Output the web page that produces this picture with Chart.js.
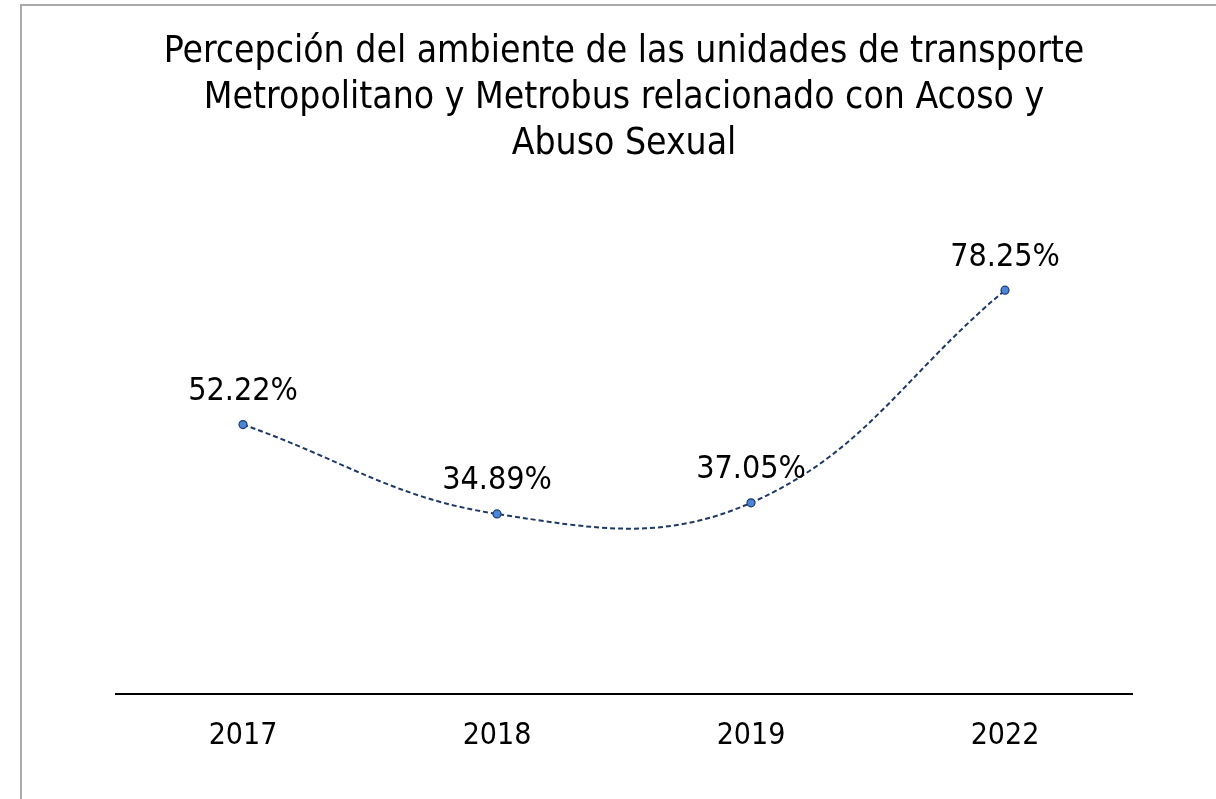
<!DOCTYPE html>
<html><head><meta charset="utf-8">
<script src="https://cdn.jsdelivr.net/npm/chart.js@4.4.1/dist/chart.umd.min.js"></script>
<style>
html,body{margin:0;padding:0;background:#fff;overflow:hidden;width:1216px;height:799px;}
#frame{position:absolute;left:20px;top:4px;border-left:2px solid #ababab;border-top:2px solid #ababab;width:1200px;height:800px;}
canvas{display:block}
</style></head><body>
<div id="frame"><canvas id="c" width="1195" height="800"></canvas></div>
<script>
const titleLines = [
  'Percepción del ambiente de las unidades de transporte',
  'Metropolitano y Metrobus relacionado con Acoso y',
  'Abuso Sexual'
];
const categories = ['2017', '2018', '2019', '2022'];
const values = [52.22, 34.89, 37.05, 78.25];
const yMin = 0;
const yMax = 100;

const FONT = '"DejaVu Sans Condensed", "DejaVu Sans", sans-serif';

const valueLabels = {
  id: 'valueLabels',
  afterDatasetsDraw(chart) {
    const ctx = chart.ctx;
    const meta = chart.getDatasetMeta(0);
    ctx.save();
    ctx.font = '32px ' + FONT;
    ctx.fillStyle = '#000';
    ctx.textAlign = 'center';
    ctx.textBaseline = 'middle';
    meta.data.forEach((pt, i) => {
      ctx.fillText(values[i].toFixed(2) + '%', pt.x, pt.y - 33);
    });
    ctx.restore();
  }
};

new Chart(document.getElementById('c'), {
  type: 'line',
  data: {
    labels: categories,
    datasets: [{
      data: values,
      borderColor: '#1f3864',
      borderWidth: 2,
      borderDash: [5, 3],
      tension: 0.4,
      fill: false,
      pointRadius: 4,
      pointBackgroundColor: '#4a86d4',
      pointBorderColor: '#1f3a70',
      pointBorderWidth: 1.2
    }]
  },
  options: {
    responsive: false,
    animation: false,
    devicePixelRatio: 1,
    layout: { padding: { left: 94, right: 85, top: 0, bottom: 28 } },
    plugins: {
      legend: { display: false },
      tooltip: { enabled: false },
      title: {
        display: true,
        text: titleLines,
        color: '#000',
        font: { family: FONT, size: 37, weight: 'normal', lineHeight: 1.243 },
        padding: { top: 23, bottom: 11 }
      }
    },
    scales: {
      x: {
        offset: true,
        grid: { display: false, drawTicks: false },
        border: { display: true, color: '#000', width: 2 },
        ticks: { color: '#000', padding: 24, font: { family: FONT, size: 30 } }
      },
      y: {
        display: false,
        min: yMin,
        max: yMax
      }
    }
  },
  plugins: [valueLabels]
});
</script>
</body></html>
